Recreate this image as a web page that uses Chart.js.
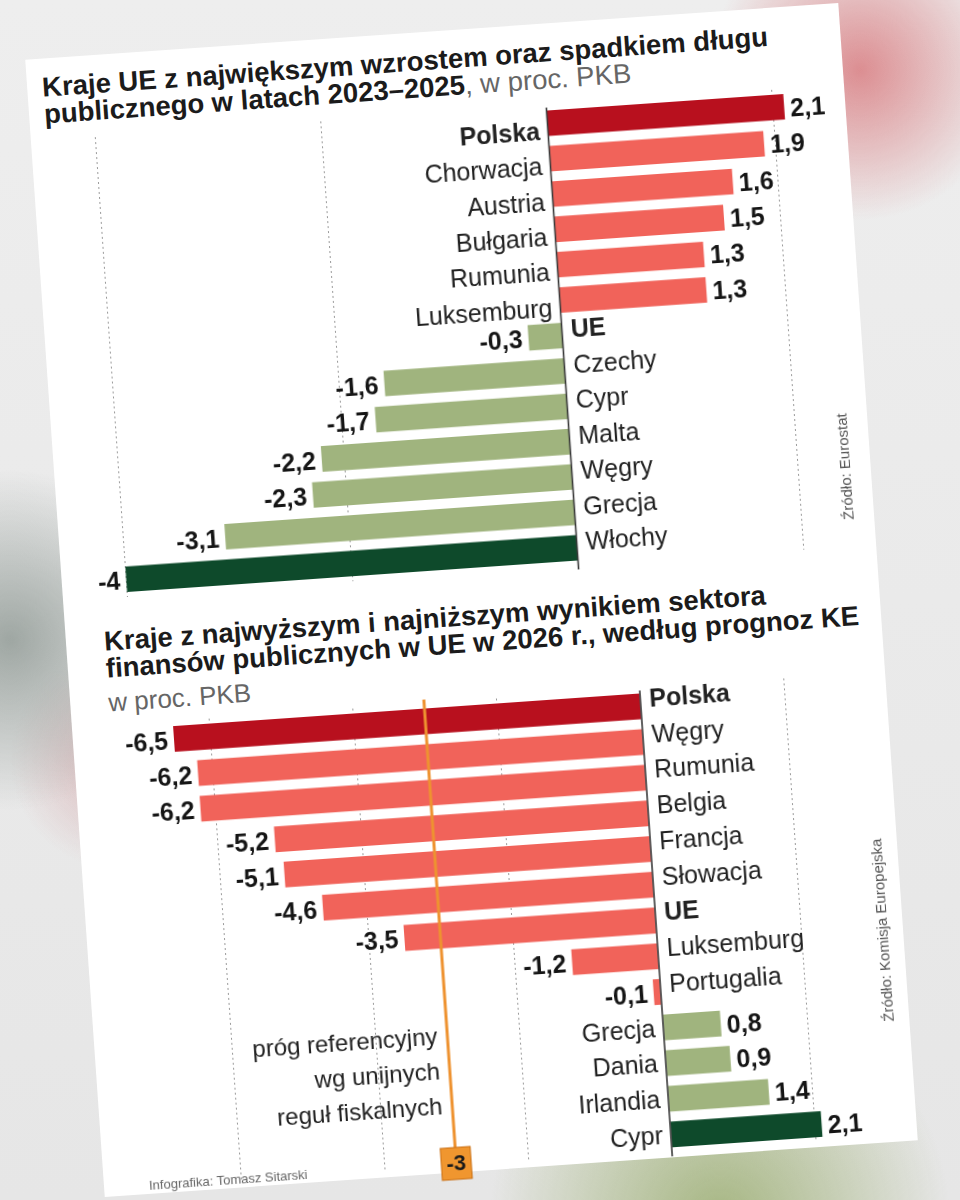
<!DOCTYPE html>
<html>
<head>
<meta charset="utf-8">
<script src="https://cdn.jsdelivr.net/npm/chart.js@4.4.1/dist/chart.umd.min.js"></script>
<style>
body {
    margin: 0;
    width: 960px;
    height: 1200px;
    overflow: hidden;
    background:
        radial-gradient(circle at 860px 70px, rgba(214,110,115,0.75) 0, rgba(214,110,115,0) 150px),
        radial-gradient(circle at 10px 640px, rgba(140,150,145,0.8) 0, rgba(140,150,145,0) 170px),
        radial-gradient(circle at 120px 760px, rgba(200,120,125,0.45) 0, rgba(200,120,125,0) 110px),
        radial-gradient(circle at 720px 1220px, rgba(150,170,105,0.8) 0, rgba(150,170,105,0) 230px),
        linear-gradient(#eeeeee, #e6e6e6);
}
#card {
    position: absolute;
    left: 64px;
    top: 30px;
    width: 815px;
    height: 1140px;
    background: #fff;
    transform: rotate(-4deg);
    font-family: "Liberation Sans", Arial, sans-serif;
}
.tytul {
    position: absolute;
    font-weight: 700;
    font-size: 27.5px;
    line-height: 27px;
    color: #1b1b1b;
    white-space: nowrap;
}
.sz { font-weight: 400; color: #666; }
.zrodlo {
    position: absolute;
    font-size: 15px;
    color: #555;
    white-space: nowrap;
    transform: translate(-50%, -50%) rotate(-90deg);
}
.box { position: absolute; left: 0; }
</style>
</head>
<body>
<div id="card">
    <div class="tytul" style="left:15px;top:15px">Kraje UE z największym wzrostem oraz spadkiem długu<br>publicznego w latach 2023–2025<span class="sz">, w proc. PKB</span></div>
    <div class="box" style="top:75px;width:815px;height:480px"><canvas id="wykres1" width="815" height="480"></canvas></div>
    <div class="zrodlo" style="left:789px;top:463px">Źródło: Eurostat</div>

    <div class="tytul" style="left:38px;top:572px">Kraje z najwyższym i najniższym wynikiem sektora<br>finansów publicznych w UE w 2026 r., według prognoz KE</div>
    <div class="tytul sz" style="left:38px;top:632px;line-height:30px;font-size:26px">w proc. PKB</div>
    <div class="box" style="top:660px;width:815px;height:490px"><canvas id="wykres2" width="815" height="490"></canvas></div>
    <div class="zrodlo" style="left:794px;top:928px">Źródło: Komisja Europejska</div>
    <div style="position:absolute;left:45px;top:1124px;font-size:13px;color:#666">Infografika: Tomasz Sitarski</div>
</div>

<script>
// dane - dług publiczny 2023-2025
const kraje1 = ['Polska', 'Chorwacja', 'Austria', 'Bułgaria', 'Rumunia', 'Luksemburg', 'UE', 'Czechy', 'Cypr', 'Malta', 'Węgry', 'Grecja', 'Włochy'];
const zmianaDlugu = [2.1, 1.9, 1.6, 1.5, 1.3, 1.3, -0.3, -1.6, -1.7, -2.2, -2.3, -3.1, -4];
const siatka1 = [-4, -2, 0, 2];

// dane - wynik sektora finansów publicznych 2026
const kraje2 = ['Polska', 'Węgry', 'Rumunia', 'Belgia', 'Francja', 'Słowacja', 'UE', 'Luksemburg', 'Portugalia', 'Grecja', 'Dania', 'Irlandia', 'Cypr'];
const wynikSektora = [-6.5, -6.2, -6.2, -5.2, -5.1, -4.6, -3.5, -1.2, -0.1, 0.8, 0.9, 1.4, 2.1];
const siatka2 = [-6, -4, -2, 0, 2];
const progReferencyjny = -3;
const progOpis = ['próg referencyjny', 'wg unijnych', 'reguł fiskalnych'];

const CIEMNY_CZERWONY = '#b8101e';
const CZERWONY = '#f1635a';
const ZIELONY = '#a0b47e';
const CIEMNY_ZIELONY = '#0e4a2b';
const FONT = '"Liberation Sans", Arial, sans-serif';
const pogrubione = ['Polska', 'UE'];

function fmt(v) {
    return String(v).replace('.', ',');
}

// kolory słupków: pierwszy ciemnoczerwony, ostatni ciemnozielony
function kolory(vals, zlyZnak) {
    return vals.map((v, i) => {
        if (i == 0) return CIEMNY_CZERWONY;
        if (i == vals.length - 1) return CIEMNY_ZIELONY;
        return Math.sign(v) == zlyZnak ? CZERWONY : ZIELONY;
    });
}

// etykiety krajów, wartości, oś zero, próg
const etykiety = {
    id: 'etykiety',
    afterDatasetsDraw(chart, args, opts) {
        const { ctx, chartArea } = chart;
        const xs = chart.scales.x, ys = chart.scales.y;
        const x0 = xs.getPixelForValue(0);
        const vals = chart.data.datasets[0].data;
        ctx.save();
        ctx.strokeStyle = '#3a3a3a';
        ctx.lineWidth = 1.6;
        ctx.beginPath();
        ctx.moveTo(x0, chartArea.top + 2);
        ctx.lineTo(x0, chartArea.bottom + 4);
        ctx.stroke();

        ctx.textBaseline = 'middle';
        chart.data.labels.forEach((lab, i) => {
            const v = vals[i];
            const yc = ys.getPixelForValue(i);
            const xe = xs.getPixelForValue(v);
            // nazwa kraju po przeciwnej stronie osi
            ctx.fillStyle = '#222';
            ctx.font = (pogrubione.includes(lab) ? '700 ' : '400 ') + '25px ' + FONT;
            if (v > 0) {
                ctx.textAlign = 'right';
                ctx.fillText(lab, x0 - 8, yc + opts.offPlus);
            } else {
                ctx.textAlign = 'left';
                ctx.fillText(lab, x0 + 9, yc + opts.offMinus);
            }
            // wartość
            ctx.fillStyle = '#151515';
            ctx.font = '700 25px ' + FONT;
            if (v > 0) {
                ctx.textAlign = 'left';
                ctx.fillText(fmt(v), xe + 6, yc + 3);
            } else {
                ctx.textAlign = 'right';
                ctx.fillText(fmt(v), xe - 6, yc + 3);
            }
        });

        if (opts.prog != null) {
            const xp = xs.getPixelForValue(opts.prog);
            const yBox = chartArea.bottom - 4;
            ctx.strokeStyle = '#ee9230';
            ctx.lineWidth = 3;
            ctx.beginPath();
            ctx.moveTo(xp, chartArea.top - 4);
            ctx.lineTo(xp, yBox - 16);
            ctx.stroke();
            ctx.fillStyle = '#f0962f';
            ctx.strokeStyle = '#c96f12';
            ctx.lineWidth = 1;
            ctx.fillRect(xp - 15, yBox - 16, 30, 32);
            ctx.strokeRect(xp - 15, yBox - 16, 30, 32);
            ctx.fillStyle = '#1a1a1a';
            ctx.font = '700 22px ' + FONT;
            ctx.textAlign = 'center';
            ctx.fillText(fmt(opts.prog), xp, yBox + 1);
            ctx.font = '400 24px ' + FONT;
            ctx.fillStyle = '#222';
            ctx.textAlign = 'right';
            opts.opis.forEach((t, k) => {
                ctx.fillText(t, xp - 10, chartArea.top + 334 + k * 35);
            });
        }
        ctx.restore();
    }
};

function rysuj(id, labels, data, zlyZnak, siatka, min, max, padding, opcjeEtykiet) {
    return new Chart(document.getElementById(id), {
        type: 'bar',
        data: {
            labels,
            datasets: [{
                data,
                backgroundColor: kolory(data, zlyZnak),
                barPercentage: 0.72,
                categoryPercentage: 1
            }]
        },
        options: {
            indexAxis: 'y',
            responsive: false,
            animation: false,
            devicePixelRatio: 1,
            layout: { padding },
            plugins: {
                legend: { display: false },
                tooltip: { enabled: false },
                etykiety: opcjeEtykiet
            },
            scales: {
                x: {
                    min, max,
                    afterBuildTicks: s => { s.ticks = siatka.map(v => ({ value: v })); },
                    ticks: { display: false },
                    border: { display: false, dash: [2, 3] },
                    grid: {
                        drawTicks: false,
                        color: c => c.tick && c.tick.value == 0 ? 'rgba(0,0,0,0)' : '#9a9a9a',
                        lineWidth: 1
                    }
                },
                y: { display: false }
            }
        },
        plugins: [etykiety]
    });
}

rysuj('wykres1', kraje1, zmianaDlugu, 1, siatka1, -4.5, 2.5,
    { left: 8, right: 16, top: 7, bottom: 12 },
    { offPlus: 9, offMinus: -4 });

rysuj('wykres2', kraje2, wynikSektora, -1, siatka2, -7.5, 3,
    { left: 29, right: 30, top: 10, bottom: 15 },
    { offPlus: 2, offMinus: -6, prog: progReferencyjny, opis: progOpis });
</script>
</body>
</html>
